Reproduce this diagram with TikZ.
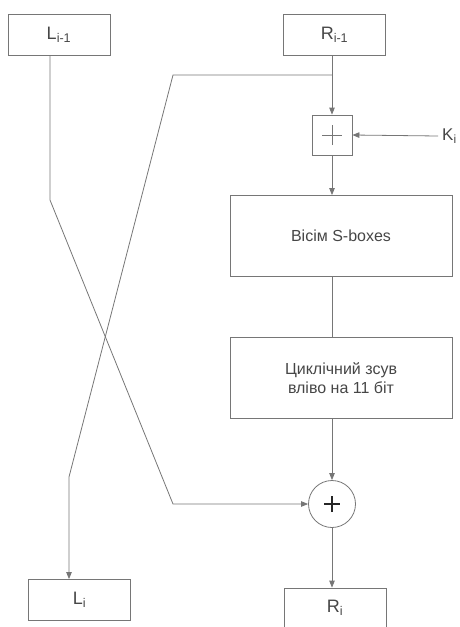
\documentclass[tikz,border=0pt]{standalone}
\usepackage{fontspec}
\setmainfont{Liberation Sans}
\usetikzlibrary{arrows.meta,positioning}
\definecolor{linegray}{RGB}{118,118,118}
\definecolor{textgray}{RGB}{70,70,70}

\begin{document}
\begin{tikzpicture}[x=1pt,y=-1pt,
    box/.style={draw=linegray,line width=0.8pt,inner sep=0pt,text=textgray,
      minimum width=102pt,minimum height=41pt,font=\fontsize{18}{20}\selectfont},
    bigbox/.style={box,minimum width=222pt,minimum height=81pt,align=center,
      font=\fontsize{16}{19}\selectfont},
    wire/.style={draw=linegray,line width=0.8pt},
    arr/.style={wire,-{Triangle[length=7pt,width=5.5pt]}}]
  \useasboundingbox (0,0) rectangle (459,627);
  % Blocks
  \node[box] (Lprev) at (59,34.5) {L\textsubscript{i-1}};
  \node[box] (Rprev) at (334.5,34.5) {R\textsubscript{i-1}};
  \node[box,minimum width=40pt,minimum height=40pt] (Kadd) at (332,135) {};
  \node[draw=none,anchor=west,inner sep=4pt,text=textgray,
    font=\fontsize{17}{20}\selectfont] (Ki) at (438,136) {K\textsubscript{i}};
  \node[bigbox] (sbox) at (341,236) {Вісім S-boxes};
  \node[bigbox] (shift) at (341,378) {Циклічний зсув\\вліво на 11 біт};
  \node[circle,draw=linegray,line width=0.8pt,minimum size=47pt,inner sep=0pt]
    (xorout) at (332,504) {};
  \node[box] (Lnext) at (79.5,600) {L\textsubscript{i}};
  \node[box,minimum height=40pt] (Rnext) at (335,608) {R\textsubscript{i}};
  % Bend points
  \coordinate (split) at (332,75);
  \coordinate (bendR) at (173,75);
  \coordinate (bendL) at (69,477);
  \coordinate (bendA) at (50,200);
  \coordinate (bendB) at (173,504);
  % Plus signs
  \draw[linegray,line width=0.6pt]
    ([xshift=-10pt]Kadd.center) -- ([xshift=10pt]Kadd.center)
    ([yshift=-10pt]Kadd.center) -- ([yshift=10pt]Kadd.center);
  \draw[black!85,line width=1.6pt]
    ([xshift=-8pt]xorout.center) -- ([xshift=8pt]xorout.center)
    ([yshift=-8pt]xorout.center) -- ([yshift=8pt]xorout.center);
  % Connectors
  \draw[arr] (Rprev.south -| Kadd) -- (Kadd.north);
  \draw[arr] (split) -- (bendR) -- (bendL) -- (bendL |- Lnext.north);
  \draw[arr] (Lprev.south -| bendA) -- (bendA) -- (bendB) -- (xorout.west);
  \draw[arr] (Ki.west) -- (Kadd.east);
  \draw[arr] (Kadd.south) -- (Kadd.south |- sbox.north);
  \draw[wire] (sbox.south -| Kadd) -- (shift.north -| Kadd);
  \draw[arr] (shift.south -| xorout) -- (xorout.north);
  \draw[arr] (xorout.south) -- (xorout.south |- Rnext.north);
\end{tikzpicture}
\end{document}
